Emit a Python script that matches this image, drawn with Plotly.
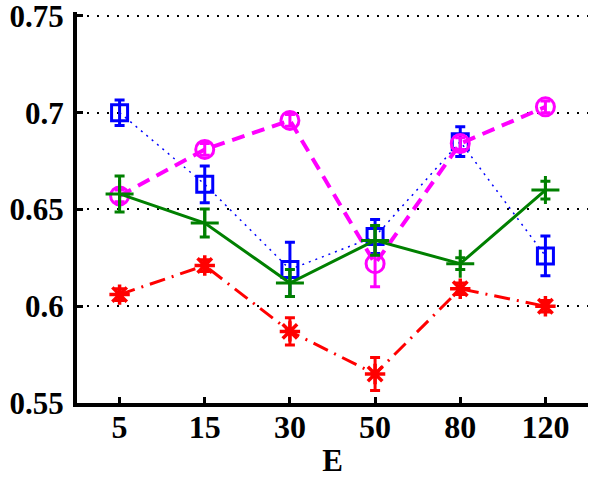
import plotly.graph_objects as go

categories = ["5", "15", "30", "50", "80", "120"]

blue_vals = [0.700, 0.663, 0.619, 0.636, 0.685, 0.626]
blue_err = [0.0066, 0.0095, 0.014, 0.0088, 0.0077, 0.0103]

magenta_vals = [0.657, 0.681, 0.696, 0.622, 0.684, 0.703]
magenta_err = [0.003, 0.003, 0.003, 0.012, 0.003, 0.003]

green_vals = [0.658, 0.643, 0.612, 0.634, 0.622, 0.660]
green_err = [0.0093, 0.0072, 0.007, 0.0077, 0.003, 0.0046]

red_vals = [0.606, 0.621, 0.587, 0.565, 0.609, 0.600]
red_err = [0.003, 0.003, 0.007, 0.0085, 0.003, 0.003]

y_ticks = [0.55, 0.6, 0.65, 0.7, 0.75]
y_ticktext = ["0.55", "0.6", "0.65", "0.7", "0.75"]

BLUE = "#0000FF"
MAGENTA = "#FF00FF"
GREEN = "#008000"
RED = "#FF0000"

fig = go.Figure()

def add_series(vals, err, color, dash, lw, symbol, msize, mlw):
    fig.add_trace(go.Scatter(
        x=categories, y=vals,
        mode="lines+markers",
        line=dict(color=color, width=lw, dash=dash),
        marker=dict(symbol=symbol, size=msize, color=color,
                    line=dict(color=color, width=mlw)),
        error_y=dict(type="data", array=err, visible=True,
                     color=color, thickness=3, width=5),
        showlegend=False,
        cliponaxis=False,
    ))

add_series(blue_vals, blue_err, BLUE, "2px,5px", 1.5, "square-open", 16, 3)
add_series(magenta_vals, magenta_err, MAGENTA, "13px,8px", 4, "circle-open", 18, 3)
add_series(green_vals, green_err, GREEN, "solid", 3, "cross-thin-open", 20, 3)
add_series(red_vals, red_err, RED, "16px,7px,2px,7px", 3, "asterisk-open", 17, 3.5)

font_family = "Times New Roman, Liberation Serif, serif"

fig.update_layout(
    width=603, height=488,
    margin=dict(l=77, r=15, t=12, b=85, autoexpand=False),
    paper_bgcolor="white",
    plot_bgcolor="white",
    font=dict(family=font_family, size=31, color="black"),
    xaxis=dict(
        type="category",
        range=[-0.5, 5.5],
        automargin=False,
        showline=True, linecolor="black", linewidth=4,
        ticks="inside", ticklen=6, tickwidth=3, tickcolor="black",
        showgrid=False, zeroline=False,
        tickfont=dict(family=font_family, size=32, color="black", weight="bold"),
        ticklabelstandoff=-7,
        title=dict(text="<b>E</b>", font=dict(family=font_family, size=31), standoff=6),
    ),
    yaxis=dict(
        range=[0.55, 0.752],
        automargin=False,
        tickvals=y_ticks, ticktext=y_ticktext,
        showline=True, linecolor="black", linewidth=4,
        ticks="inside", ticklen=6, tickwidth=3, tickcolor="black",
        showgrid=True, gridcolor="black", gridwidth=1.5, griddash="2px,8px",
        zeroline=False,
        tickfont=dict(family=font_family, size=31, color="black", weight="bold"),
        ticklabelstandoff=3,
        ticklabeloverflow="allow",
    ),
)

fig.write_html("out.html")
